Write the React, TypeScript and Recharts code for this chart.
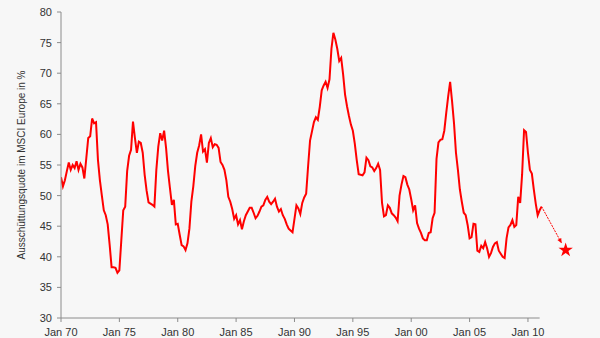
import { ComposedChart, Line, Scatter, XAxis, YAxis, ReferenceLine } from 'recharts'

// Ausschüttungsquote, sampled every 2 months starting Jan 1970
const START_YEAR = 1970
const STEP_YEARS = 2 / 12
const payout = [
  53.0, 51.5, 52.5, 54.0, 55.4, 54.2, // 1970
  55.0, 54.5, 55.6, 54.2, 55.2, 54.6, // 1971
  52.8, 56.1, 59.4, 59.7, 62.6, 61.8, // 1972
  62.0, 55.8, 52.5, 50.0, 47.6, 46.8, // 1973
  45.3, 42.0, 38.3, 38.3, 38.2, 37.4, // 1974
  37.8, 42.7, 47.6, 48.2, 54.0, 56.5, // 1975
  57.5, 62.1, 59.4, 57.0, 58.8, 58.6, // 1976
  57.0, 53.4, 50.8, 48.9, 48.7, 48.5, // 1977
  48.2, 54.2, 58.0, 60.2, 59.0, 60.6, // 1978
  57.8, 54.0, 51.2, 48.5, 49.3, 45.3, // 1979
  45.4, 43.6, 41.9, 41.7, 41.1, 42.2, // 1980
  44.6, 49.0, 51.5, 54.8, 57.0, 58.2, // 1981
  60.0, 57.2, 57.6, 55.4, 58.6, 59.4, // 1982
  57.9, 58.4, 58.3, 57.8, 55.5, 55.0, // 1983
  54.2, 52.5, 49.8, 49.0, 47.8, 46.2, // 1984
  46.8, 45.3, 46.0, 44.5, 45.8, 46.8, // 1985
  47.4, 48.0, 48.0, 47.2, 46.3, 46.7, // 1986
  47.4, 48.2, 48.4, 49.3, 49.8, 49.0, // 1987
  48.6, 49.0, 49.5, 48.2, 47.4, 47.8, // 1988
  46.8, 46.2, 45.3, 44.6, 44.3, 44.0, // 1989
  46.2, 48.4, 47.9, 47.0, 48.8, 49.7, // 1990
  50.3, 54.8, 59.0, 60.5, 62.0, 62.8, // 1991
  62.4, 64.5, 67.2, 68.0, 68.6, 67.6, // 1992
  69.0, 74.0, 76.6, 75.5, 74.0, 72.0, // 1993
  72.5, 69.8, 66.5, 64.6, 63.0, 61.6, // 1994
  60.6, 58.5, 55.8, 53.5, 53.4, 53.3, // 1995
  53.8, 56.2, 55.8, 54.8, 54.6, 54.0, // 1996
  54.5, 55.2, 54.2, 48.8, 46.6, 46.8, // 1997
  48.4, 48.0, 47.1, 46.8, 46.4, 45.8, // 1998
  50.0, 51.8, 53.2, 53.0, 51.8, 51.0, // 1999
  49.4, 47.6, 48.4, 45.5, 44.6, 43.9, // 2000
  43.0, 42.7, 42.7, 43.9, 44.0, 46.3, // 2001
  47.2, 56.0, 58.7, 59.1, 59.2, 60.6, // 2002
  63.5, 66.2, 68.6, 65.4, 61.8, 57.0, // 2003
  54.2, 51.0, 49.0, 47.2, 46.8, 45.2, // 2004
  43.0, 43.2, 45.4, 45.3, 41.0, 40.8, // 2005
  41.8, 41.4, 42.4, 41.4, 40.0, 40.6, // 2006
  41.6, 42.2, 42.4, 41.0, 40.5, 40.0, // 2007
  39.8, 43.0, 44.8, 45.2, 46.0, 44.9, // 2008
  45.2, 49.8, 48.8, 53.5, 60.7, 60.4, // 2009
  57.0, 54.2, 53.6, 51.0, 48.7, 46.8, // 2010
  47.6, 48.2, // 2011
]

// Prognose-Pfeil und Zielwert
const arrowYears = [2011.17, 2012.89]
const arrowValues = [48.2, 42.2]
const targetYear = 2013.23
const targetValue = 41.1

const xTicks = [1970, 1975, 1980, 1985, 1990, 1995, 2000, 2005, 2010]
const yTicks = [30, 35, 40, 45, 50, 55, 60, 65, 70, 75, 80]

const mainData = payout.map((v, i) => ({ t: START_YEAR + i * STEP_YEARS, v }))
const arrowData = arrowYears.map((t, i) => ({ t, v: arrowValues[i] }))
const targetData = [{ t: targetYear, v: targetValue }]

const RED = '#ff0000'
const AXIS = '#8c8c8c'
const TEXT = '#333333'

function ArrowHead(props: any) {
  const { cx, cy, index, points } = props
  if (index !== 1 || cx == null) return <g key={`a-${index}`} />
  const prev = points && points[0] ? points[0] : { x: cx - 20, y: cy - 36 }
  const ang = Math.atan2(cy - prev.y, cx - prev.x)
  const len = 5
  const hw = 2.2
  const bx = cx - Math.cos(ang) * len
  const by = cy - Math.sin(ang) * len
  const px = -Math.sin(ang) * hw
  const py = Math.cos(ang) * hw
  return (
    <polygon
      key={`a-${index}`}
      points={`${cx},${cy} ${bx + px},${by + py} ${bx - px},${by - py}`}
      fill={RED}
    />
  )
}

export default function App() {
  return (
    <div
      style={{
        position: 'absolute',
        left: 0,
        top: 0,
        width: 600,
        height: 338,
        background: '#f7f7f7',
        fontFamily: '"Liberation Sans", Arial, sans-serif',
      }}
    >
      <ComposedChart width={600} height={338} margin={{ top: 12, right: 2, bottom: 0, left: 0 }}>
        <XAxis
          type="number"
          dataKey="t"
          domain={[1970, 2016]}
          ticks={xTicks}
          interval={0}
          allowDataOverflow
          axisLine={false}
          tickLine={{ stroke: AXIS }}
          tickSize={4}
          tickMargin={6}
          height={20}
          tick={{ fontSize: 11, fill: TEXT }}
          tickFormatter={(t: number) => `Jan ${String(Math.round(t) % 100).padStart(2, '0')}`}
        />
        <YAxis
          type="number"
          dataKey="v"
          domain={[30, 80]}
          ticks={yTicks}
          interval={0}
          width={61}
          axisLine={{ stroke: AXIS }}
          tickLine={{ stroke: AXIS }}
          tickSize={4}
          tickMargin={5}
          tick={{ fontSize: 11, fill: TEXT }}
          label={{
            value: 'Ausschüttungsquote im MSCI Europe in %',
            angle: -90,
            position: 'insideLeft',
            offset: 21,
            textAnchor: 'middle',
            fontSize: 10,
            fill: TEXT,
          }}
        />
        <ReferenceLine
          segment={[{ x: 1970, y: 30 }, { x: 2011, y: 30 }]}
          stroke={AXIS}
          ifOverflow="visible"
        />
        <Line
          data={mainData}
          dataKey="v"
          type="linear"
          stroke={RED}
          strokeWidth={2}
          dot={false}
          activeDot={false}
          isAnimationActive={false}
        />
        <Line
          data={arrowData}
          dataKey="v"
          type="linear"
          stroke={RED}
          strokeWidth={1}
          strokeDasharray="2 1"
          dot={ArrowHead}
          activeDot={false}
          isAnimationActive={false}
        />
        <Scatter
          data={targetData}
          dataKey="v"
          shape="star"
          fill={RED}
          legendType="none"
          isAnimationActive={false}
        />
      </ComposedChart>
    </div>
  )
}
